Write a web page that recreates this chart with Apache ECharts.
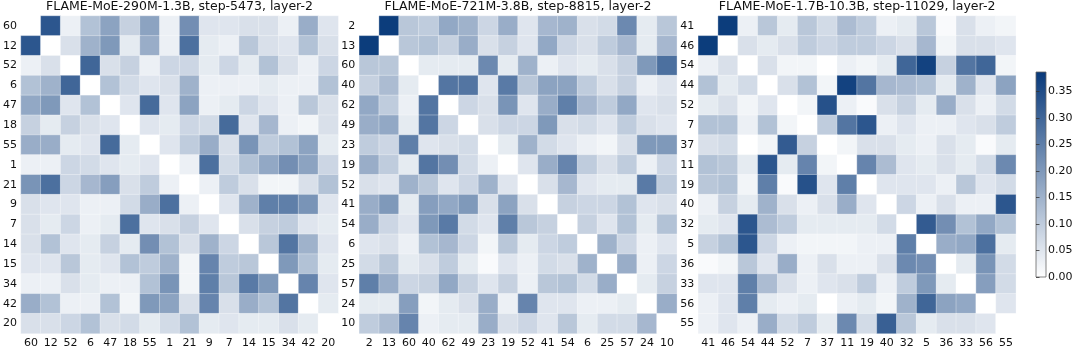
<!DOCTYPE html>
<html>
<head>
<meta charset="utf-8">
<script src="https://cdn.jsdelivr.net/npm/echarts@6/dist/echarts.min.js"></script>
<style>
  html, body { margin: 0; padding: 0; background: #fff; }
  #echarts { width: 1079px; height: 351px; }
</style>
</head>
<body>
<div id="echarts"></div>
<script>
// titles of the three panels
var titles = [
    'FLAME-MoE-290M-1.3B, step-5473, layer-2',
    'FLAME-MoE-721M-3.8B, step-8815, layer-2',
    'FLAME-MoE-1.7B-10.3B, step-11029, layer-2'
];

// expert ids (same order on both axes)
var experts1 = ['60','12','52','6','47','18','55','1','21','9','7','14','15','34','42','20'];
var experts2 = ['2','13','60','40','62','49','23','19','52','41','54','6','25','57','24','10'];
var experts3 = ['41','46','54','44','52','7','37','11','19','40','32','5','36','33','56','55'];

// co-activation values, row by row (rows top to bottom)
var matrix1 = [
    [0.00,0.33,0.03,0.12,0.18,0.09,0.18,0.03,0.22,0.05,0.05,0.06,0.06,0.03,0.16,0.05],
    [0.33,0.00,0.06,0.15,0.20,0.04,0.16,0.03,0.28,0.04,0.03,0.11,0.06,0.05,0.12,0.06],
    [0.03,0.06,0.00,0.30,0.06,0.09,0.03,0.08,0.08,0.04,0.08,0.04,0.12,0.06,0.03,0.08],
    [0.12,0.15,0.30,0.00,0.12,0.07,0.05,0.06,0.15,0.03,0.03,0.03,0.04,0.03,0.03,0.12],
    [0.17,0.20,0.05,0.12,0.00,0.05,0.29,0.05,0.18,0.03,0.04,0.08,0.05,0.03,0.11,0.06],
    [0.09,0.04,0.09,0.06,0.05,0.00,0.05,0.04,0.08,0.07,0.29,0.05,0.14,0.03,0.02,0.06],
    [0.16,0.16,0.04,0.05,0.29,0.04,0.00,0.05,0.10,0.16,0.06,0.21,0.10,0.12,0.18,0.04],
    [0.03,0.03,0.08,0.07,0.05,0.04,0.05,0.00,0.03,0.28,0.07,0.12,0.17,0.22,0.18,0.08],
    [0.21,0.28,0.08,0.14,0.19,0.06,0.10,0.03,0.00,0.03,0.10,0.06,0.02,0.02,0.06,0.12],
    [0.06,0.05,0.05,0.03,0.03,0.07,0.16,0.28,0.03,0.00,0.05,0.15,0.25,0.25,0.21,0.05],
    [0.06,0.04,0.08,0.03,0.04,0.28,0.05,0.06,0.09,0.05,0.00,0.06,0.09,0.10,0.05,0.04],
    [0.06,0.12,0.05,0.04,0.09,0.04,0.22,0.12,0.06,0.15,0.08,0.00,0.11,0.27,0.15,0.05],
    [0.05,0.05,0.11,0.04,0.05,0.12,0.10,0.15,0.02,0.24,0.10,0.11,0.00,0.20,0.12,0.04],
    [0.03,0.03,0.06,0.04,0.03,0.03,0.12,0.21,0.02,0.25,0.11,0.26,0.20,0.00,0.24,0.05],
    [0.16,0.12,0.03,0.03,0.12,0.02,0.20,0.18,0.06,0.24,0.06,0.16,0.12,0.27,0.00,0.04],
    [0.06,0.06,0.08,0.12,0.06,0.07,0.04,0.07,0.12,0.04,0.05,0.04,0.04,0.06,0.04,0.00]
];
var matrix2 = [
    [0.00,0.38,0.11,0.10,0.17,0.15,0.08,0.16,0.05,0.14,0.15,0.06,0.07,0.23,0.04,0.11],
    [0.38,0.00,0.11,0.12,0.09,0.16,0.06,0.09,0.05,0.17,0.08,0.06,0.10,0.14,0.04,0.14],
    [0.11,0.11,0.00,0.04,0.04,0.04,0.23,0.04,0.15,0.03,0.05,0.04,0.06,0.09,0.20,0.28],
    [0.09,0.13,0.04,0.00,0.27,0.27,0.05,0.26,0.11,0.18,0.18,0.10,0.06,0.09,0.03,0.05],
    [0.17,0.10,0.03,0.27,0.00,0.08,0.06,0.21,0.05,0.16,0.25,0.14,0.10,0.17,0.05,0.06],
    [0.16,0.17,0.04,0.27,0.08,0.00,0.06,0.08,0.08,0.20,0.06,0.07,0.05,0.10,0.06,0.05],
    [0.10,0.08,0.25,0.05,0.06,0.07,0.00,0.04,0.15,0.07,0.05,0.03,0.02,0.06,0.20,0.20],
    [0.16,0.10,0.04,0.27,0.22,0.07,0.03,0.00,0.05,0.16,0.24,0.10,0.06,0.10,0.03,0.08],
    [0.06,0.05,0.15,0.11,0.05,0.08,0.15,0.05,0.00,0.06,0.14,0.05,0.04,0.04,0.26,0.10],
    [0.16,0.20,0.04,0.19,0.17,0.20,0.06,0.18,0.06,0.00,0.09,0.08,0.08,0.12,0.05,0.06],
    [0.16,0.08,0.05,0.20,0.26,0.07,0.05,0.25,0.11,0.09,0.00,0.09,0.05,0.12,0.04,0.12],
    [0.05,0.06,0.03,0.12,0.14,0.08,0.02,0.11,0.04,0.08,0.10,0.00,0.15,0.08,0.03,0.05],
    [0.07,0.11,0.04,0.06,0.10,0.04,0.01,0.05,0.03,0.07,0.06,0.15,0.00,0.16,0.03,0.08],
    [0.25,0.16,0.08,0.09,0.17,0.09,0.05,0.09,0.03,0.11,0.12,0.07,0.16,0.00,0.04,0.09],
    [0.04,0.04,0.19,0.02,0.04,0.06,0.16,0.03,0.24,0.05,0.05,0.03,0.03,0.04,0.00,0.16],
    [0.10,0.13,0.24,0.03,0.04,0.04,0.16,0.06,0.08,0.05,0.11,0.04,0.07,0.07,0.14,0.00]
];
var matrix3 = [
    [0.00,0.38,0.03,0.11,0.04,0.11,0.07,0.13,0.10,0.03,0.04,0.11,0.01,0.06,0.03,0.02],
    [0.38,0.00,0.06,0.04,0.06,0.10,0.08,0.10,0.10,0.08,0.06,0.14,0.02,0.06,0.06,0.05],
    [0.03,0.06,0.00,0.06,0.02,0.02,0.00,0.03,0.02,0.04,0.30,0.37,0.09,0.27,0.30,0.02],
    [0.12,0.04,0.07,0.00,0.06,0.12,0.02,0.37,0.27,0.14,0.13,0.12,0.04,0.15,0.05,0.18],
    [0.04,0.06,0.02,0.05,0.00,0.02,0.34,0.03,0.01,0.06,0.09,0.04,0.16,0.06,0.03,0.07],
    [0.12,0.12,0.03,0.12,0.02,0.00,0.10,0.27,0.33,0.03,0.05,0.03,0.03,0.05,0.06,0.10],
    [0.06,0.07,0.00,0.02,0.32,0.09,0.00,0.02,0.06,0.06,0.04,0.03,0.06,0.04,0.01,0.04],
    [0.12,0.11,0.04,0.33,0.04,0.24,0.02,0.00,0.24,0.13,0.05,0.04,0.06,0.04,0.07,0.23],
    [0.11,0.12,0.02,0.25,0.01,0.34,0.05,0.25,0.00,0.05,0.05,0.05,0.03,0.11,0.05,0.07],
    [0.03,0.09,0.04,0.15,0.06,0.03,0.06,0.16,0.05,0.00,0.08,0.03,0.06,0.03,0.03,0.33],
    [0.04,0.05,0.33,0.13,0.10,0.04,0.04,0.04,0.04,0.07,0.00,0.32,0.22,0.12,0.17,0.12],
    [0.09,0.12,0.33,0.08,0.03,0.02,0.02,0.02,0.03,0.03,0.25,0.00,0.16,0.17,0.28,0.04],
    [0.01,0.02,0.11,0.05,0.16,0.03,0.06,0.03,0.03,0.06,0.23,0.22,0.00,0.04,0.21,0.07],
    [0.05,0.05,0.25,0.13,0.06,0.03,0.05,0.06,0.10,0.03,0.10,0.20,0.04,0.00,0.19,0.07],
    [0.03,0.05,0.25,0.04,0.03,0.04,0.00,0.03,0.04,0.02,0.15,0.30,0.18,0.17,0.00,0.05],
    [0.03,0.05,0.03,0.16,0.07,0.10,0.04,0.23,0.07,0.31,0.11,0.04,0.06,0.06,0.05,0.00]
];

// colour scale
var colorMin = 0;
var colorMax = 0.387;
var colorbarTicks = [0, 0.05, 0.10, 0.15, 0.20, 0.25, 0.30, 0.35];
var lowColor = '#ffffff';
var highColor = '#08397a';

var fontName = 'DejaVu Sans';

function toCells(matrix) {
    var out = [];
    matrix.forEach(function (row, r) {
        row.forEach(function (v, c) {
            out.push([c, r, v]);
        });
    });
    return out;
}

var myChart = echarts.init(document.getElementById('echarts'));

var panelLeft = [20.7, 359.3, 698.3];
var panelTop = 16;
var panelSize = 317.5;
var allExperts = [experts1, experts2, experts3];
var allMatrix = [matrix1, matrix2, matrix3];

var grids = [], xAxes = [], yAxes = [], series = [], titleList = [];
for (var i = 0; i < 3; i++) {
    grids.push({left: panelLeft[i], top: panelTop, width: panelSize, height: panelSize});
    titleList.push({
        text: titles[i],
        left: panelLeft[i] + panelSize / 2,
        textAlign: 'center',
        top: 0,
        padding: 0,
        textStyle: {fontFamily: fontName, fontSize: 12.5, fontWeight: 'normal', color: '#111', lineHeight: 14}
    });
    xAxes.push({
        type: 'category', gridIndex: i, data: allExperts[i],
        axisLine: {show: false}, axisTick: {show: false}, splitLine: {show: false},
        axisLabel: {fontFamily: fontName, fontSize: 11, color: '#111', margin: 4, interval: 0}
    });
    yAxes.push({
        type: 'category', gridIndex: i, data: allExperts[i], inverse: true,
        axisLine: {show: false}, axisTick: {show: false}, splitLine: {show: false},
        axisLabel: {fontFamily: fontName, fontSize: 11, color: '#111', margin: 4, interval: 0}
    });
    series.push({
        type: 'heatmap', xAxisIndex: i, yAxisIndex: i,
        data: toCells(allMatrix[i]),
        itemStyle: {borderColor: 'rgba(255,255,255,0.55)', borderWidth: 0.6},
        emphasis: {disabled: true}
    });
}

// colorbar axis
var cbLeft = 1036, cbTop = 72, cbW = 10, cbH = 205;
grids.push({left: cbLeft, top: cbTop, width: cbW, height: cbH});
xAxes.push({type: 'value', gridIndex: 3, show: false, min: 0, max: 1});
yAxes.push({
    type: 'value', gridIndex: 3, position: 'right', min: colorMin, max: colorMax,
    interval: 0.05,
    axisLine: {show: false},
    axisTick: {show: true, length: 3.5, lineStyle: {color: '#333', width: 0.8}},
    splitLine: {show: false},
    axisLabel: {
        fontFamily: fontName, fontSize: 11, color: '#111', margin: 2,
        showMaxLabel: false,
        formatter: function (v) { return colorbarTicks.indexOf(Math.round(v * 100) / 100) >= 0 ? v.toFixed(2) : ''; }
    }
});

var option = {
    backgroundColor: '#fff',
    animation: false,
    title: titleList,
    grid: grids,
    xAxis: xAxes,
    yAxis: yAxes,
    visualMap: {
        show: false, type: 'continuous', seriesIndex: [0, 1, 2], dimension: 2,
        min: colorMin, max: colorMax,
        inRange: {color: [lowColor, highColor]}
    },
    graphic: [{
        type: 'rect',
        shape: {x: cbLeft, y: cbTop, width: cbW, height: cbH},
        style: {
            fill: new echarts.graphic.LinearGradient(0, 0, 0, 1, [
                {offset: 0, color: highColor},
                {offset: 1, color: lowColor}
            ]),
            stroke: '#666', lineWidth: 0.8
        }
    }],
    series: series
};
myChart.setOption(option);
</script>
</body>
</html>
